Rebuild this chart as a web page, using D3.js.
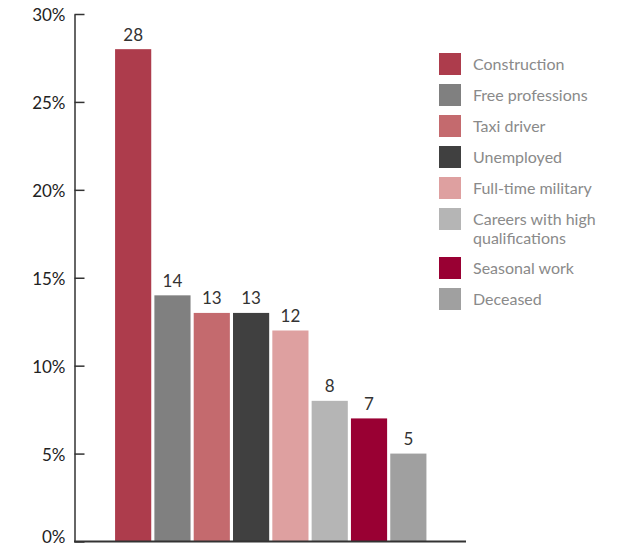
<!DOCTYPE html>
<html><head><meta charset="utf-8">
<script src="https://cdn.jsdelivr.net/npm/d3@7"></script>
<style>body{margin:0;background:#fff}svg{display:block}</style>
</head><body>
<svg id="c" width="637" height="546"></svg>
<script>
const categories = ["Construction","Free professions","Taxi driver","Unemployed","Full-time military","Careers with high qualifications","Seasonal work","Deceased"];
const legendLabels = [["Construction"],["Free professions"],["Taxi driver"],["Unemployed"],["Full-time military"],["Careers with high","qualifications"],["Seasonal work"],["Deceased"]];
const values = [28,14,13,13,12,8,7,5];
const colors = ["#ad3c4c","#808080","#c46a6e","#404040","#dea0a0","#b5b5b5","#990033","#a0a0a0"];
const yTicks = [0,5,10,15,20,25,30];

const svg = d3.select("#c");
const font = "Lato, 'Open Sans', sans-serif";
const y = d3.scaleLinear().domain([0,30]).range([541.5,14]);
const x = d3.scaleBand().domain(categories).range([113.5,428]).paddingInner(0.08).paddingOuter(0.04);

svg.selectAll("rect.bar").data(values).join("rect").attr("class","bar")
  .attr("x",(d,i)=>x(categories[i])).attr("width",x.bandwidth())
  .attr("y",d=>y(d)).attr("height",d=>y(0)-y(d))
  .attr("fill",(d,i)=>colors[i]);

svg.selectAll("text.val").data(values).join("text").attr("class","val")
  .attr("x",(d,i)=>x(categories[i])+x.bandwidth()/2).attr("y",d=>y(d)-8.5)
  .attr("text-anchor","middle").attr("font-family",font).attr("font-size",17)
  .attr("fill","#333").text(d=>d);

const ax = svg.append("g").attr("transform","translate(74.5,0)")
  .call(d3.axisLeft(y).tickValues(yTicks).tickFormat(d=>d+"%").tickSize(-10).tickPadding(9).tickSizeOuter(0));
ax.select(".domain").attr("stroke","#333").attr("stroke-width",1.5);
ax.selectAll(".tick line").attr("stroke","#333").attr("stroke-width",1.5);
ax.selectAll(".tick text").attr("font-family",font).attr("font-size",17).attr("fill","#222")
  .attr("dy",d=>d===0?"0.5px":"6.5px");

svg.append("line").attr("x1",74).attr("x2",466).attr("y1",y(0)).attr("y2",y(0))
  .attr("stroke","#333").attr("stroke-width",2);

const legendY = [64,95,126,157,188,219,268,299];
const lg = svg.append("g");
legendLabels.forEach((lines,i)=>{
  lg.append("rect").attr("x",439).attr("y",legendY[i]-11).attr("width",22).attr("height",22).attr("fill",colors[i]);
  const t = lg.append("text").attr("x",473).attr("y",legendY[i]+5.5)
    .attr("font-family",font).attr("font-size",16).attr("fill","#8a8a8a");
  lines.forEach((l,j)=>t.append("tspan").attr("x",473).attr("dy",j?19.5:0).text(l));
});
</script>
</body></html>
